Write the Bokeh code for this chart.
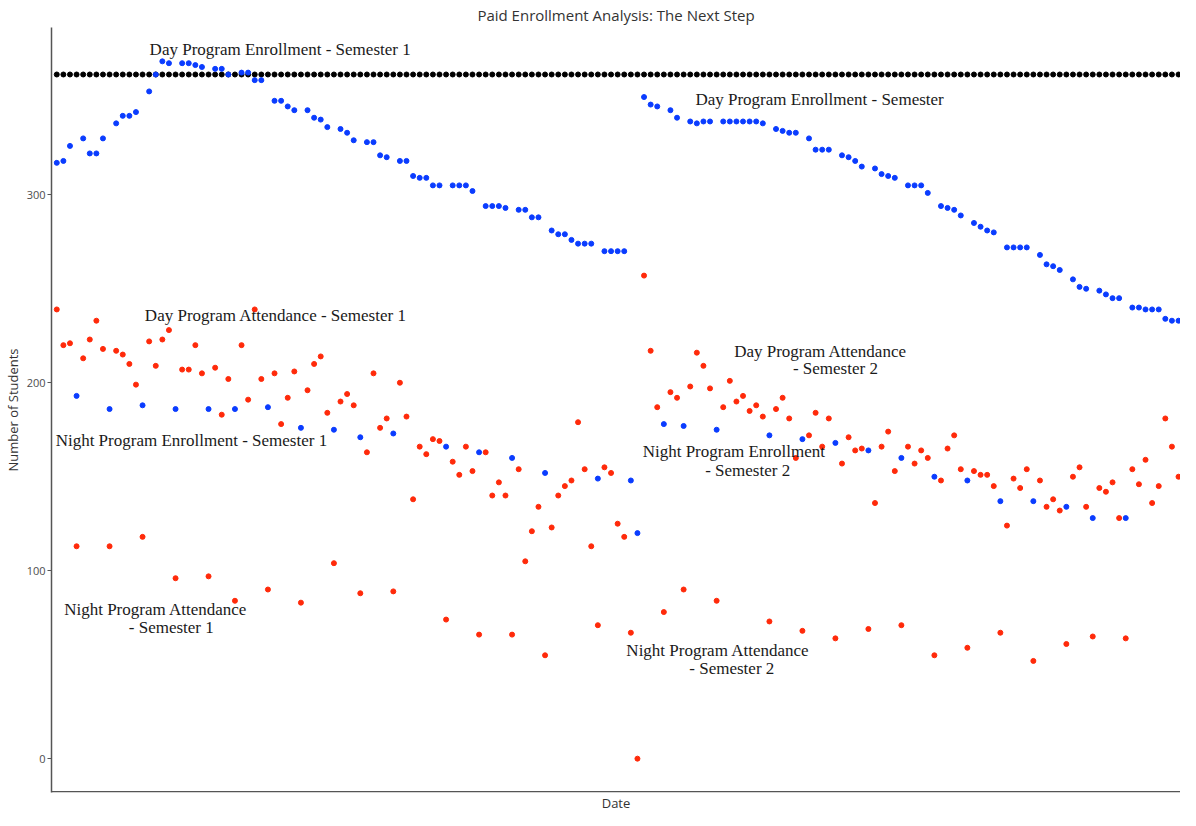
from bokeh.plotting import figure
from bokeh.models import Range1d, FixedTicker, Label, Span, Title
from bokeh.embed import file_html
from bokeh.resources import INLINE

# ---------------- data ----------------
n_days = 171  # school days on the Date axis (day 0 .. day 170)

night_days = [3, 8, 13, 18, 23, 27, 32, 37, 42, 46, 51, 59, 64, 69, 74, 82, 87, 88,
              92, 95, 100, 108, 113, 118, 123, 128, 133, 138, 143, 148, 153, 157, 162]
night_enroll = [193, 186, 188, 186, 186, 186, 187, 176, 175, 171, 173, 166, 163, 160, 152, 149, 148, 120,
                178, 177, 175, 172, 170, 168, 164, 160, 150, 148, 137, 137, 134, 128, 128]
night_attend = [113, 113, 118, 96, 97, 84, 90, 83, 104, 88, 89, 74, 66, 66, 55, 71, 67, 0,
                78, 90, 84, 73, 68, 64, 69, 71, 55, 59, 67, 52, 61, 65, 64]

day_enroll = [317, 318, 326,
              330, 322, 322, 330,
              338, 342, 342, 344,
              355, 364, 371, 370,
              370, 370, 369, 368,
              367, 367, 364,
              365, 365, 361, 361,
              350, 350, 347, 345,
              345, 341, 340, 336,
              335, 333, 329,
              328, 328, 321, 320,
              318, 318, 310, 309, 309, 305, 305,
              305, 305, 305, 302,
              294, 294, 294, 293,
              292, 292, 288, 288,
              281, 279, 279, 276, 274, 274, 274,
              270, 270, 270, 270,
              352, 348, 347,
              345, 341,
              339, 338, 339, 339,
              339, 339, 339, 339, 339, 339, 338,
              335, 334, 333, 333,
              330, 324, 324, 324,
              321, 320, 318, 315,
              314, 311, 310, 309,
              305, 305, 305, 301,
              294, 293, 292, 289,
              285, 283, 281, 280,
              272, 272, 272, 272,
              268, 263, 262, 260,
              255, 251, 250,
              249, 247, 245, 245,
              240, 240, 239, 239, 239, 234, 233, 233]

day_attend = [239, 220, 221,
              213, 223, 233, 218,
              217, 215, 210, 199,
              222, 209, 223, 228,
              207, 207, 220, 205,
              208, 183, 202,
              220, 191, 239, 202,
              205, 178, 192, 206,
              196, 210, 214, 184,
              190, 194, 188,
              163, 205, 176, 181,
              200, 182, 138, 166, 162, 170, 169,
              158, 151, 166, 153,
              163, 140, 147, 140,
              154, 105, 121, 134,
              123, 140, 145, 148, 179, 154, 113,
              155, 152, 125, 118,
              257, 217, 187,
              195, 192,
              198, 216, 209, 197,
              187, 201, 190, 193, 185, 188, 182,
              186, 192, 181, 160,
              172, 184, 166, 181,
              157, 171, 164, 165,
              136, 166, 174, 153,
              166, 157, 164, 160,
              148, 165, 172, 154,
              153, 151, 151, 145,
              124, 149, 144, 154,
              148, 134, 138, 132,
              150, 155, 134,
              144, 142, 147, 128,
              154, 146, 159, 136, 145, 181, 166, 150]

capacity = 364

all_days = list(range(n_days))
day_days = [d for d in all_days if d not in night_days]
assert len(day_days) == len(day_enroll) == len(day_attend), (len(day_days), len(day_enroll), len(day_attend))
cap_values = [capacity for _ in all_days]

# ---------------- figure ----------------
BLUE = "#0a3cff"
RED = "#ff2a0a"
AXIS = "#555555"

p = figure(width=1180, height=810, output_backend="svg", toolbar_location=None,
           x_range=Range1d(-0.8, 170.3), y_range=Range1d(-18, 389),
           min_border_left=47, min_border_right=0, min_border_top=0, min_border_bottom=0,
           background_fill_color="white", border_fill_color="white")
p.outline_line_color = None
p.xgrid.visible = False
p.ygrid.visible = False

p.title.text = "Paid Enrollment Analysis: The Next Step"
p.title.align = "center"
p.title.text_font = "Open Sans"
p.title.text_font_size = "15px"
p.title.text_font_style = "normal"
p.title.text_color = "#333333"
p.title.standoff = 5

p.scatter(all_days, cap_values, size=5, color="black")
p.scatter(day_days, day_enroll, size=5, color=BLUE)
p.scatter(night_days, night_enroll, size=5, color=BLUE)
p.scatter(day_days, day_attend, size=5, color=RED)
p.scatter(night_days, night_attend, size=5, color=RED)

# y axis
yax = p.yaxis[0]
yax.ticker = FixedTicker(ticks=[0, 100, 200, 300])
yax.axis_label = "Number of Students"
yax.axis_line_color = AXIS
yax.axis_line_width = 1.5
yax.major_tick_line_color = AXIS
yax.minor_tick_line_color = None
yax.major_tick_in = 0
yax.major_tick_out = 4
yax.major_label_text_font = "Open Sans"
yax.major_label_text_font_size = "11px"
yax.major_label_text_color = "#4d4d4d"
yax.major_label_standoff = 2
yax.axis_label_text_font = "Open Sans"
yax.axis_label_text_font_size = "13px"
yax.axis_label_text_font_style = "normal"
yax.axis_label_text_color = "#333333"
yax.axis_label_standoff = 2

# x axis: plain line along the bottom of the frame, title underneath
p.xaxis.visible = False
p.add_layout(Span(location=p.y_range.start + 0.4, dimension="width",
                  line_color=AXIS, line_width=1.5))
p.add_layout(Title(text="Date", align="center", text_font="Open Sans", text_font_size="13px",
                   text_font_style="normal", text_color="#333333", standoff=-2), "below")

# annotations
annots = [
    ("Day Program Enrollment - Semester 1", 33.85, 377.4),
    ("Day Program Enrollment - Semester", 115.6, 350.5),
    ("Day Program Attendance - Semester 1", 33.2, 235.8),
    ("Day Program Attendance", 115.75, 216.8),
    ("- Semester 2", 118.0, 207.4),
    ("Night Program Enrollment - Semester 1", 20.4, 169.5),
    ("Night Program Enrollment", 102.6, 163.2),
    ("- Semester 2", 104.7, 153.2),
    ("Night Program Attendance", 15.0, 79.5),
    ("- Semester 1", 17.35, 70.0),
    ("Night Program Attendance", 100.2, 57.4),
    ("- Semester 2", 102.3, 47.9),
]
for txt, ax_, ay_ in annots:
    p.add_layout(Label(x=ax_, y=ay_, text=txt, text_align="center", text_baseline="middle",
                       text_font="Liberation Serif", text_font_size="17px", text_color="#1a1a1a"))

open("out.html", "w").write(file_html(p, INLINE))
